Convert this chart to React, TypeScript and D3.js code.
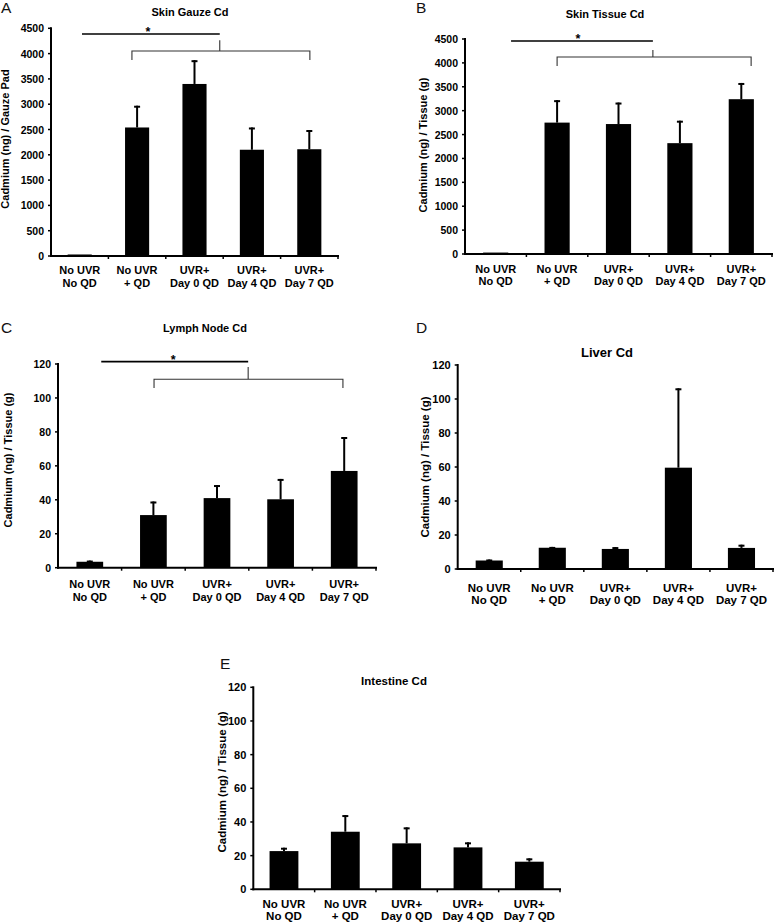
import React from "react";
import * as d3 from "d3";

const categoriesLine1 = ["No UVR", "No UVR", "UVR+", "UVR+", "UVR+"];
const categoriesLine2 = ["No QD", "+ QD", "Day 0 QD", "Day 4 QD", "Day 7 QD"];

const skinGauzeMean = [30, 2540, 3400, 2100, 2110];
const skinGauzeErr = [0, 430, 470, 440, 380];

const skinTissueMean = [30, 2750, 2720, 2320, 3240];
const skinTissueErr = [0, 470, 450, 470, 340];

const lymphMean = [3.5, 31, 41, 40.3, 57];
const lymphErr = [0.7, 8, 7.7, 12, 20];

const liverMean = [5, 12.5, 11.8, 59.6, 12.4];
const liverErr = [0.6, 0.5, 1.1, 46.7, 1.9];

const intestineMean = [22.7, 34.2, 27.3, 24.9, 16.4];
const intestineErr = [2, 9.9, 9.5, 3, 2];

const ticks4500 = [0, 500, 1000, 1500, 2000, 2500, 3000, 3500, 4000, 4500];
const ticks120 = [0, 20, 40, 60, 80, 100, 120];

const FONT = "'Liberation Sans', Arial, Helvetica, sans-serif";

type Sig = {
  lineVal: number; lineStart: number; peak: number;
  brVal: number; brDrop: number; peakVal: number;
  brStart: number; brEnd: number; star: number;
};

type PanelProps = {
  letter: string; letterX: number; letterY: number;
  title: string; titleX: number; titleY: number; titleSize: number;
  x0: number; x1: number; yTop: number; yBot: number;
  max: number; ticks: number[];
  mean: number[]; err: number[];
  yLabel: string; yLabelX: number; yLabelY: number; yLabelSize: number;
  tickSize: number; xLabelY1: number; xLabelY2: number; xLabelSize: number;
  barFrac: number;
  sig?: Sig;
};

function Panel(p: PanelProps) {
  const idx = d3.range(categoriesLine2.length).map(String);
  const x = d3.scaleBand<string>().domain(idx).range([p.x0, p.x1]).padding(0);
  const y = d3.scaleLinear().domain([0, p.max]).range([p.yBot, p.yTop]);
  const bw = x.bandwidth();
  const barW = bw * p.barFrac;
  const cx = (i: number) => p.x0 + (i + 0.5) * bw;
  const s = p.sig;
  return (
    <g>
      <text x={p.letterX} y={p.letterY} fontSize={15.5} fontFamily={FONT} fill="#111">{p.letter}</text>
      <text x={p.titleX} y={p.titleY} fontSize={p.titleSize} fontWeight="bold" fontFamily={FONT} textAnchor="middle">{p.title}</text>
      <text transform={`translate(${p.yLabelX},${p.yLabelY}) rotate(-90)`} fontSize={p.yLabelSize} fontWeight="bold" fontFamily={FONT} textAnchor="middle" dominantBaseline="central">{p.yLabel}</text>
      {p.mean.map((v, i) => {
        const c = x(String(i))! + bw / 2;
        const top = y(v + p.err[i]);
        return (
          <g key={i}>
            <rect x={c - barW / 2} y={y(v)} width={barW} height={Math.max(1.5, p.yBot - y(v))} fill="#000" />
            {p.err[i] > 0 && (
              <g stroke="#000" strokeWidth={2}>
                <line x1={c} x2={c} y1={y(v)} y2={top} />
                <line x1={c - 3} x2={c + 3} y1={top + 1} y2={top + 1} />
              </g>
            )}
          </g>
        );
      })}
      <line x1={p.x0} x2={p.x0} y1={p.yTop - 1} y2={p.yBot + 1} stroke="#000" strokeWidth={2} />
      {p.ticks.map((t) => (
        <g key={t}>
          <line x1={p.x0 - 3} x2={p.x0} y1={y(t)} y2={y(t)} stroke="#000" strokeWidth={1.5} />
          <text x={p.x0 - 7} y={y(t)} fontSize={p.tickSize} fontWeight="bold" fontFamily={FONT} textAnchor="end" dominantBaseline="central">{t}</text>
        </g>
      ))}
      <line x1={p.x0 - 1} x2={p.x1 + 1} y1={p.yBot} y2={p.yBot} stroke="#000" strokeWidth={2} />
      {idx.map((k, i) => (
        <g key={k}>
          <line x1={x(k)! + bw} x2={x(k)! + bw} y1={p.yBot} y2={p.yBot + 3} stroke="#000" strokeWidth={1.5} />
          <text x={x(k)! + bw / 2} y={p.xLabelY1} fontSize={p.xLabelSize} fontWeight="bold" fontFamily={FONT} textAnchor="middle">{categoriesLine1[i]}</text>
          <text x={x(k)! + bw / 2} y={p.xLabelY2} fontSize={p.xLabelSize} fontWeight="bold" fontFamily={FONT} textAnchor="middle">{categoriesLine2[i]}</text>
        </g>
      ))}
      {s && (
        <g>
          <line x1={cx(s.lineStart)} x2={cx(s.peak)} y1={y(s.lineVal)} y2={y(s.lineVal)} stroke="#000" strokeWidth={1.6} />
          <text x={cx(s.star)} y={y(s.lineVal) + 2} fontSize={12.5} fontWeight="bold" fontFamily={FONT} textAnchor="middle">*</text>
          <path
            d={`M${cx(s.brStart)},${y(s.brDrop)} L${cx(s.brStart)},${y(s.brVal)} L${cx(s.peak)},${y(s.brVal)} L${cx(s.peak)},${y(s.peakVal)} M${cx(s.peak)},${y(s.brVal)} L${cx(s.brEnd)},${y(s.brVal)} L${cx(s.brEnd)},${y(s.brDrop)}`}
            fill="none" stroke="#333" strokeWidth={1.1}
          />
        </g>
      )}
    </g>
  );
}

export default function App() {
  return (
    <svg width={775} height={922} style={{ position: "absolute", left: 0, top: 0, background: "#fff" }}>
      <rect width={775} height={922} fill="#fff" />
      <Panel letter="A" letterX={1} letterY={13} title="Skin Gauze Cd" titleX={190} titleY={16} titleSize={11}
        x0={51} x1={338} yTop={28.3} yBot={256} max={4500} ticks={ticks4500}
        mean={skinGauzeMean} err={skinGauzeErr}
        yLabel="Cadmium (ng) / Gauze Pad" yLabelX={5} yLabelY={139} yLabelSize={11}
        tickSize={10.5} xLabelY1={274} xLabelY2={287} xLabelSize={11} barFrac={0.42}
        sig={{ lineVal: 4387, lineStart: 0.04, peak: 2.44, brVal: 4051, brDrop: 3873, peakVal: 4265, brStart: 0.91, brEnd: 4.01, star: 1.19 }} />
      <Panel letter="B" letterX={416} letterY={13} title="Skin Tissue Cd" titleX={605} titleY={18} titleSize={11}
        x0={465} x1={772} yTop={39} yBot={254} max={4500} ticks={ticks4500}
        mean={skinTissueMean} err={skinTissueErr}
        yLabel="Cadmium (ng) / Tissue (g)" yLabelX={423} yLabelY={145} yLabelSize={11}
        tickSize={10.5} xLabelY1={273} xLabelY2={285} xLabelSize={11} barFrac={0.41}
        sig={{ lineVal: 4458, lineStart: 0.25, peak: 2.56, brVal: 4123, brDrop: 3935, peakVal: 4270, brStart: 1.0, brEnd: 4.16, star: 1.34 }} />
      <Panel letter="C" letterX={1} letterY={333} title="Lymph Node Cd" titleX={205} titleY={332} titleSize={11}
        x0={58} x1={376} yTop={364} yBot={567.7} max={120} ticks={ticks120}
        mean={lymphMean} err={lymphErr}
        yLabel="Cadmium (ng) / Tissue (g)" yLabelX={8} yLabelY={460} yLabelSize={11}
        tickSize={10.5} xLabelY1={588} xLabelY2={601} xLabelSize={11} barFrac={0.42}
        sig={{ lineVal: 121.4, lineStart: 0.18, peak: 2.49, brVal: 111, brDrop: 105.9, peakVal: 118.2, brStart: 1.01, brEnd: 3.98, star: 1.31 }} />
      <Panel letter="D" letterX={416} letterY={333} title="Liver Cd" titleX={607} titleY={357} titleSize={13}
        x0={457.7} x1={773} yTop={365} yBot={569} max={120} ticks={ticks120}
        mean={liverMean} err={liverErr}
        yLabel="Cadmium (ng) / Tissue (g)" yLabelX={425} yLabelY={467} yLabelSize={11.5}
        tickSize={11} xLabelY1={592} xLabelY2={604} xLabelSize={11.5} barFrac={0.43} />
      <Panel letter="E" letterX={220} letterY={669} title="Intestine Cd" titleX={394} titleY={685} titleSize={11.5}
        x0={253.3} x1={560} yTop={687.3} yBot={889.3} max={120} ticks={ticks120}
        mean={intestineMean} err={intestineErr}
        yLabel="Cadmium (ng) / Tissue (g)" yLabelX={222} yLabelY={782} yLabelSize={11.5}
        tickSize={11} xLabelY1={908} xLabelY2={920} xLabelSize={11.5} barFrac={0.47} />
    </svg>
  );
}
